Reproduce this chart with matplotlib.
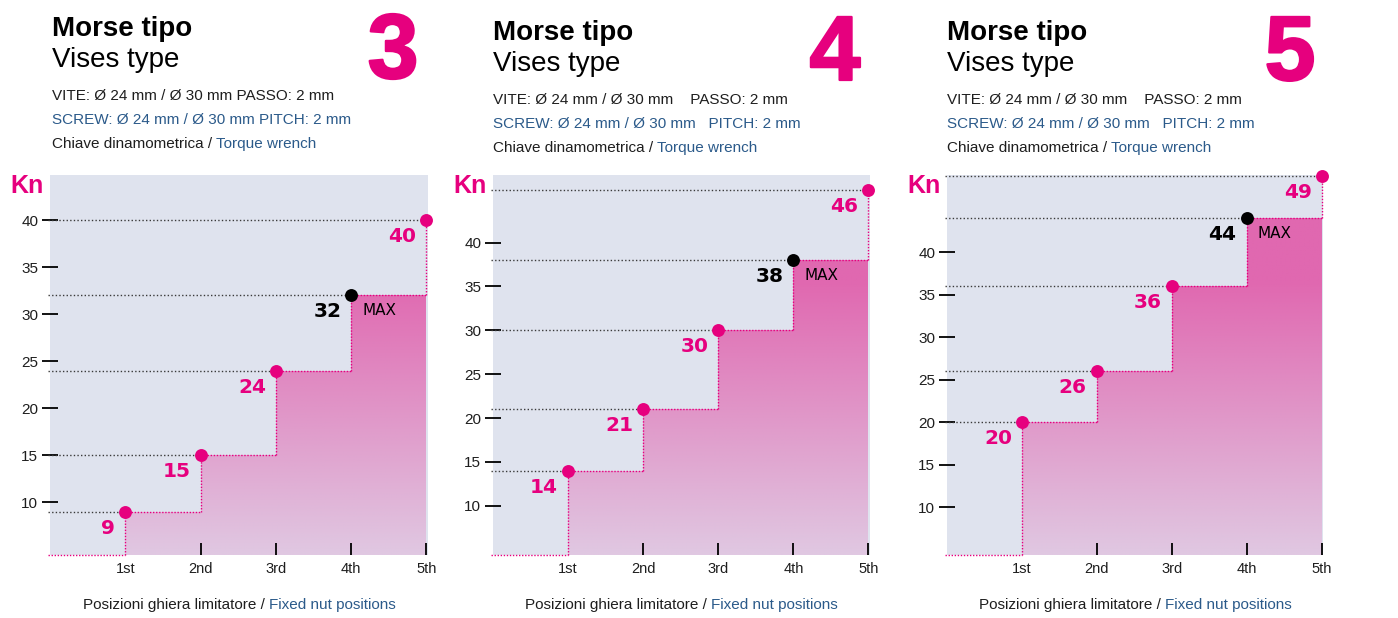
import numpy as np
import matplotlib
matplotlib.use("Agg")
import matplotlib.pyplot as plt
from matplotlib.patches import Polygon
import matplotlib.patheffects as pe

# ---- data -------------------------------------------------------------
positions = ["1st", "2nd", "3rd", "4th", "5th"]
vise_types = ["3", "4", "5"]
force_type3 = [9, 15, 24, 32, 40]
force_type4 = [14, 21, 30, 38, 46]
force_type5 = [20, 26, 36, 44, 49]
max_position = "4th"
y_ticks = [10, 15, 20, 25, 30, 35, 40]
y_limits = [(4.4, 44.8), (4.4, 47.7), (4.4, 49.1)]

title_it = "Morse tipo"
title_en = "Vises type"
screw_it = ["VITE: Ø 24 mm / Ø 30 mm PASSO: 2 mm",
            "VITE: Ø 24 mm / Ø 30 mm    PASSO: 2 mm",
            "VITE: Ø 24 mm / Ø 30 mm    PASSO: 2 mm"]
screw_en = ["SCREW: Ø 24 mm / Ø 30 mm PITCH: 2 mm",
            "SCREW: Ø 24 mm / Ø 30 mm   PITCH: 2 mm",
            "SCREW: Ø 24 mm / Ø 30 mm   PITCH: 2 mm"]
wrench_it = "Chiave dinamometrica / "
wrench_en = "Torque wrench"
xlabel_it = "Posizioni ghiera limitatore / "
xlabel_en = "Fixed nut positions"
unit_label = "Kn"
max_label = "MAX"

forces = [force_type3, force_type4, force_type5]

# ---- style ------------------------------------------------------------
W, H = 1398, 618
MAGENTA = "#e6007e"
BLUE = "#2b5a8a"
BG = "#dfe3ee"
TXT = "#1e1e1e"
SANS = ["Liberation Sans", "DejaVu Sans"]
SMALL = 11

fig = plt.figure(figsize=(W / 100, H / 100), dpi=100)
fig.patch.set_facecolor("white")
renderer = fig.canvas.get_renderer()


def fx(px):
    return px / W


def fy(py):
    return 1 - py / H


def two_tone(x, y, first, second, size, ha="left"):
    """Write `first` in dark text followed by `second` in blue."""
    t1 = fig.text(fx(x), fy(y), first, color=TXT, fontsize=size,
                  family=SANS, va="baseline", ha="left")
    t2 = fig.text(fx(x), fy(y), second, color=BLUE, fontsize=size,
                  family=SANS, va="baseline", ha="left")
    b1 = t1.get_window_extent(renderer)
    b2 = t2.get_window_extent(renderer)
    start = x
    if ha == "center":
        start = x - (b1.width + b2.width) / 2
    t1.set_x(fx(start))
    t2.set_x(fx(start + b1.width))


ax_left = [50, 493, 947]
ax_width = [378, 377, 376]
ax_top, ax_bottom = 175, 555
head_left = [52, 493, 947]
head_shift = [0, 4, 4]
big_x = [393, 835, 1290]
kn_left = [10, 453, 907]

light = np.array([224, 200, 226]) / 255
dark = np.array([224, 104, 176]) / 255

x = np.arange(1, len(positions) + 1)
imax = positions.index(max_position)

for k, vals in enumerate(forces):
    lo, hi = y_limits[k]
    ax = fig.add_axes([fx(ax_left[k]), 1 - ax_bottom / H,
                       ax_width[k] / W, (ax_bottom - ax_top) / H])
    ax.set_facecolor(BG)
    for s in ax.spines.values():
        s.set_visible(False)
    ax.set_xlim(0, 5.02)
    ax.set_ylim(lo, hi)

    # gradient-filled staircase
    verts = [(x[0], lo)]
    for i in range(len(vals) - 1):
        verts += [(x[i], vals[i]), (x[i + 1], vals[i])]
    verts += [(x[-1], lo)]
    poly = Polygon(verts, closed=True, facecolor="none", edgecolor="none")
    ax.add_patch(poly)
    frac = np.linspace(0, 1, 300)
    t = np.clip(frac / 0.72, 0, 1)[:, None]
    grad = light[None, :] * (1 - t) + dark[None, :] * t
    img = ax.imshow(grad[:, None, :], extent=(x[0], x[-1], lo, hi),
                    origin="lower", aspect="auto", zorder=1,
                    interpolation="bilinear")
    img.set_clip_path(poly)

    dot_k = dict(color="#3a3a3a", lw=1.0, linestyle=(0, (1, 1.6)),
                 zorder=2, clip_on=False)
    dot_p = dict(color=MAGENTA, lw=1.0, linestyle=(0, (1, 1.2)),
                 zorder=3, clip_on=False)

    # bottom pink guide and risers
    ax.plot([-0.03, x[0]], [lo, lo], **dot_p)
    prev = lo
    for i, v in enumerate(vals):
        ax.plot([-0.03, x[i]], [v, v], **dot_k)
        ax.plot([x[i], x[i]], [prev, v], **dot_p)
        if i + 1 < len(vals):
            ax.plot([x[i], x[i + 1]], [v, v], **dot_p)
        prev = v

    # points and value labels
    for i, v in enumerate(vals):
        col = "black" if i == imax else MAGENTA
        ax.plot(x[i], v, "o", ms=9.3, color=col, mec="none",
                zorder=5, clip_on=False)
        ax.annotate(str(v), (x[i], v), xytext=(-10, -7),
                    textcoords="offset pixels", ha="right", va="top",
                    fontsize=14.5, fontweight="bold", color=col,
                    family="DejaVu Sans", zorder=6)
    ax.annotate(max_label, (x[imax], vals[imax]), xytext=(11, -15),
                textcoords="offset pixels", ha="left", va="center",
                fontsize=11, color="black", family="DejaVu Sans", zorder=6)

    # axes ticks
    ax.set_yticks(y_ticks)
    ax.set_yticklabels([str(v) for v in y_ticks], family=SANS)
    ax.tick_params(axis="y", direction="inout", length=11, width=1.3,
                   pad=3, labelsize=11, colors="black", labelcolor=TXT)
    ax.set_xticks(x)
    ax.set_xticklabels(positions, family=SANS)
    ax.tick_params(axis="x", direction="in", length=9, width=1.3,
                   pad=5, labelsize=10.5, colors="black", labelcolor=TXT)
    ax.xaxis.get_major_ticks()[0].tick1line.set_visible(False)
    if k == 2:
        ax.yaxis.get_major_ticks()[-1].tick1line.set_color("white")

    # headers
    hs = head_shift[k]
    fig.text(fx(head_left[k]), fy(36 + hs), title_it, fontsize=20,
             fontweight="bold", color="black", family=SANS, va="baseline")
    fig.text(fx(head_left[k]), fy(67 + hs), title_en, fontsize=20,
             color="black", family=SANS, va="baseline")
    fig.text(fx(head_left[k]), fy(100 + hs), screw_it[k], fontsize=SMALL,
             color=TXT, family=SANS, va="baseline")
    fig.text(fx(head_left[k]), fy(124 + hs), screw_en[k], fontsize=SMALL,
             color=BLUE, family=SANS, va="baseline")
    two_tone(head_left[k], 148 + hs, wrench_it, wrench_en, SMALL)

    fig.text(fx(big_x[k]), fy(78 + min(hs, 2)), vise_types[k], fontsize=66,
             fontweight="bold", color=MAGENTA, family=SANS,
             ha="center", va="baseline",
             path_effects=[pe.withStroke(linewidth=1.6, foreground=MAGENTA)])
    fig.text(fx(kn_left[k]), fy(193), unit_label, fontsize=18,
             fontweight="bold", color=MAGENTA, family=SANS, va="baseline")

    two_tone(ax_left[k] + ax_width[k] / 2, 609, xlabel_it, xlabel_en, SMALL,
             ha="center")

fig.savefig("out.png", dpi=100, facecolor="white")
